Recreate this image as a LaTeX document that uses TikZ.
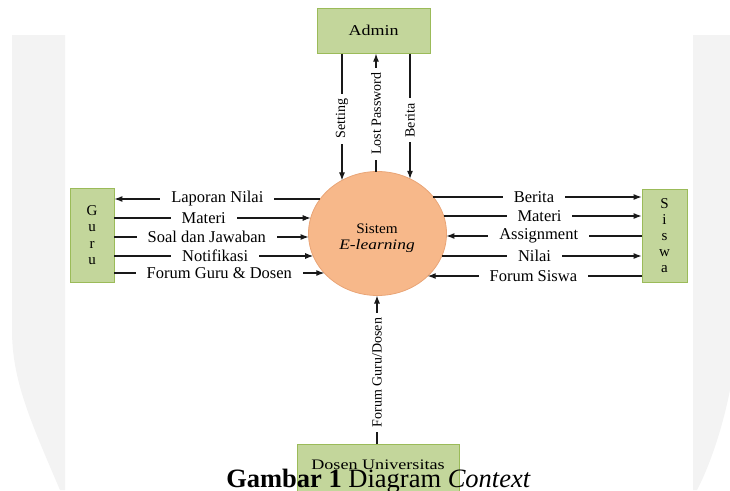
\documentclass[tikz,border=0pt]{standalone}
\usepackage{fontspec}
\setmainfont{Liberation Serif}
\usetikzlibrary{arrows.meta,shapes.geometric}
\definecolor{boxfill}{HTML}{C3D69B}
\definecolor{boxline}{HTML}{9BBB59}
\definecolor{circfill}{HTML}{F7B88A}
\definecolor{circline}{HTML}{E9A577}
\definecolor{wm}{HTML}{F3F3F3}
\newcommand\xs[2]{\scalebox{#1}[1]{#2}}
\begin{document}
\begin{tikzpicture}[x=1pt,y=-1pt,
 box/.style={draw=boxline, fill=boxfill, line width=0.8pt, inner sep=0pt},
 flow/.style={line width=1.1pt, draw=black!90},
 tip/.style={-{Latex[length=8pt,width=6pt]}},
 hlab/.style={fill=white, inner xsep=11pt, inner ysep=0pt, font=\fontsize{16.5}{16.5}\selectfont},
 vlab/.style={fill=white, rotate=90, inner xsep=5pt, inner ysep=0pt, font=\fontsize{14}{14}\selectfont}]
\useasboundingbox (0,0) rectangle (730,490);
\clip (0,0) rectangle (730,490);
% faint watermark strips
\fill[wm] (12,35) -- (65,35) -- (65,490) -- (60,490) .. controls (30,420) and (12,380) .. (12,330) -- cycle;
\fill[wm] (693,35) -- (730,35) -- (730,390) .. controls (720,440) and (705,475) .. (697,490) -- (693,490) -- cycle;

% nodes
\node[box, minimum width=113, minimum height=45, font=\fontsize{15}{15}\selectfont] (admin) at (373.5,30.8) {\xs{1.2}{Admin}};
\node[box, minimum width=44, minimum height=94, align=center, font=\fontsize{15}{16.5}\selectfont] (guru) at (92,235) {G\\u\\r\\u};
\node[box, minimum width=45, minimum height=93, align=center, font=\fontsize{15}{16}\selectfont] (siswa) at (664.5,235.5) {S\\i\\s\\w\\a};
\node[ellipse, draw=circline, fill=circfill, line width=0.8pt, minimum width=138, minimum height=124, inner sep=0pt] (circ) at (377.5,233.5) {};
\node[align=center, inner sep=0pt, font=\fontsize{14.5}{16}\selectfont] (circtext) at (377,238) {\xs{1.05}{Sistem}\\\xs{1.2}{\itshape E-learning}};
\node[box, minimum width=162, anchor=north, text height=10pt, text depth=40pt, inner ysep=15pt, font=\fontsize{14.5}{14.5}\selectfont] (dosen) at (378,444) {\xs{1.25}{Dosen Universitas}};

% circle border points
\coordinate (gL1) at (320.2,199);
\coordinate (gL2) at (310.7,218);
\coordinate (gL3) at (308.6,237);
\coordinate (gL4) at (313.2,256);
\coordinate (gL5) at (324.3,273);
\coordinate (sR1) at (433.3,197);
\coordinate (sR2) at (443.7,216);
\coordinate (sR3) at (446.4,236);
\coordinate (sR4) at (441.8,256);
\coordinate (sR5) at (427.7,276);
\coordinate (cT1) at (342,180.4);
\coordinate (cT2) at (376,171.5);
\coordinate (cT3) at (410,178.8);
\coordinate (cB) at (377,295.5);

% Guru flows
\draw[flow,tip] (gL1) -- node[hlab,pos=0.5]{Laporan Nilai} (guru.east |- gL1);
\draw[flow,tip] (guru.east |- gL2) -- node[hlab,pos=.455]{Materi} (gL2);
\draw[flow,tip] (guru.east |- gL3) -- node[hlab,pos=.476]{Soal dan Jawaban} (gL3);
\draw[flow,tip] (guru.east |- gL4) -- node[hlab,pos=.507]{Notifikasi} (gL4);
\draw[flow,tip] (guru.east |- gL5) -- node[hlab,pos=.5]{Forum Guru \& Dosen} (gL5);

% Siswa flows
\draw[flow,tip] (sR1) -- node[hlab,pos=.483]{Berita} (siswa.west |- sR1);
\draw[flow,tip] (sR2) -- node[hlab,pos=.484]{Materi} (siswa.west |- sR2);
\draw[flow,tip] (siswa.west |- sR3) -- node[hlab,pos=.527]{Assignment} (sR3);
\draw[flow,tip] (sR4) -- node[hlab,pos=.464]{Nilai} (siswa.west |- sR4);
\draw[flow,tip] (siswa.west |- sR5) -- node[hlab,pos=.506]{Forum Siswa} (sR5);

% Admin flows
\draw[flow,tip] (admin.south -| cT1) -- node[vlab,pos=.514]{Setting} (cT1);
\draw[flow,tip] (cT2) -- node[vlab,pos=.49]{Lost Password} (admin.south -| cT2);
\draw[flow,tip] (admin.south -| cT3) -- node[vlab,pos=.533]{Berita} (cT3);

% Dosen flow
\draw[flow,tip] (dosen.north -| cB) -- node[vlab,pos=.482]{Forum Guru/Dosen} (cB);

% caption
\node[anchor=base, inner sep=0pt, font=\fontsize{26.5}{26.5}\selectfont] (cap) at (378.5,487) {\textbf{Gambar 1} Diagram \textit{Context}};
\end{tikzpicture}
\end{document}
